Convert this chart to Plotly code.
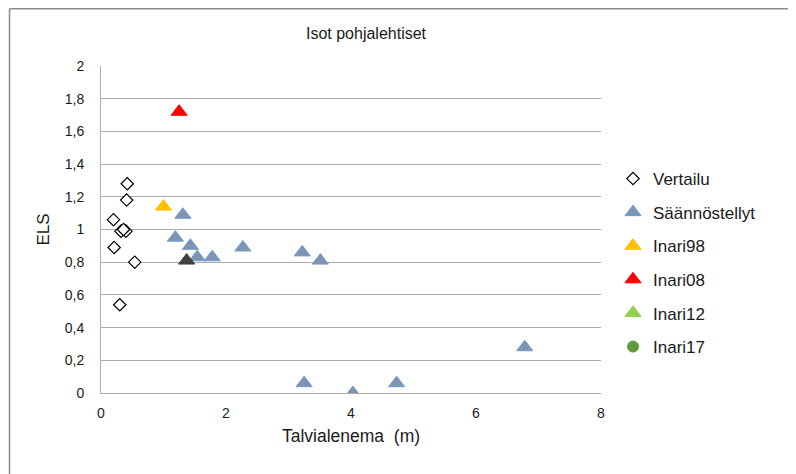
import plotly.graph_objects as go

# Data
vertailu_x = [0.42, 0.41, 0.20, 0.32, 0.40, 0.36, 0.21, 0.54, 0.30]
vertailu_y = [1.28, 1.18, 1.06, 0.99, 0.99, 1.00, 0.89, 0.80, 0.54]

saann_x = [1.31, 1.19, 1.43, 1.54, 1.78, 2.27, 3.22, 3.51, 6.78, 3.25, 4.03, 4.73]
saann_y = [1.09, 0.95, 0.90, 0.83, 0.83, 0.89, 0.86, 0.81, 0.28, 0.06, 0.00, 0.06]

inari98_x = [1.00]
inari98_y = [1.14]

inari08_x = [1.25]
inari08_y = [1.72]

inari12_x = [None]
inari12_y = [None]

inari17_x = [None]
inari17_y = [None]

other_x = [1.37]
other_y = [0.81]

y_ticks = [0, 0.2, 0.4, 0.6, 0.8, 1.0, 1.2, 1.4, 1.6, 1.8, 2.0]
y_tick_labels = ["0", "0,2", "0,4", "0,6", "0,8", "1", "1,2", "1,4", "1,6", "1,8", "2"]
x_ticks = [0, 2, 4, 6, 8]
x_tick_labels = ["0", "2", "4", "6", "8"]

FONT = "Liberation Sans, Arial, sans-serif"
TXT = "#1a1a1a"
GRID = "#acacac"

fig = go.Figure()

fig.add_trace(go.Scatter(
    x=vertailu_x, y=vertailu_y, mode="markers", name="Vertailu", legendgroup="a",
    marker=dict(symbol="diamond", size=9.5, color="white", line=dict(color="black", width=1.2)),
))
fig.add_trace(go.Scatter(
    x=saann_x, y=saann_y, mode="markers", name="Säännöstellyt", legendgroup="b",
    marker=dict(symbol="triangle-up", size=14, color="#7f94b1", line=dict(color="#6b9bd3", width=1)),
))
fig.add_trace(go.Scatter(
    x=inari98_x, y=inari98_y, mode="markers", name="Inari98", legendgroup="c",
    marker=dict(symbol="triangle-up", size=14, color="#ffc000", line=dict(color="#ffc000", width=1)),
))
fig.add_trace(go.Scatter(
    x=inari08_x, y=inari08_y, mode="markers", name="Inari08", legendgroup="d",
    marker=dict(symbol="triangle-up", size=14, color="#ff0000", line=dict(color="#ff0000", width=1)),
))
fig.add_trace(go.Scatter(
    x=inari12_x, y=inari12_y, mode="markers", name="Inari12", legendgroup="e",
    marker=dict(symbol="triangle-up", size=14, color="#92d050", line=dict(color="#92d050", width=1)),
))
fig.add_trace(go.Scatter(
    x=inari17_x, y=inari17_y, mode="markers", name="Inari17", legendgroup="f",
    marker=dict(symbol="circle", size=11, color="#5f9a3c", line=dict(color="#5f9a3c", width=1)),
))
fig.add_trace(go.Scatter(
    x=other_x, y=other_y, mode="markers", name="", showlegend=False,
    marker=dict(symbol="triangle-up", size=14, color="#404040", line=dict(color="#404040", width=1)),
))

# The page body has an 8px margin, so the figure sits at (8, 8) in the window.
OFF = 8
W, H = 796 - OFF, 474 - OFF
# plot area in page pixels: x 101..601, y 66..393
L, R, T, B = 101 - OFF, 601 - OFF, 66 - OFF, 393 - OFF
pw, ph = R - L, B - T
bx = (1.5 - L) / pw
by = (B - 0.75) / ph

fig.update_layout(
    width=W, height=H,
    margin=dict(l=L, r=W - R, t=T, b=H - B, pad=0),
    paper_bgcolor="white", plot_bgcolor="white",
    font=dict(family=FONT, color=TXT, size=14),
    title=dict(text="Isot pohjalehtiset", x=(366 - OFF) / W, xref="container", xanchor="center",
               y=1 - (33 - OFF) / H, yref="container", yanchor="middle",
               font=dict(family=FONT, size=16, color=TXT)),
    xaxis=dict(range=[0, 8], tickvals=x_ticks, ticktext=x_tick_labels, showgrid=False,
               zeroline=False, showline=True, linecolor=GRID, linewidth=1,
               ticks="", ticklabelstandoff=7, tickfont=dict(size=14, color=TXT),
               title=dict(text="Talvialenema  (m)", standoff=9, font=dict(size=17.5, color=TXT)),
               fixedrange=True),
    yaxis=dict(range=[0, 2], tickvals=y_ticks, ticktext=y_tick_labels, showgrid=True,
               gridcolor=GRID, gridwidth=1, zeroline=False, showline=True, linecolor=GRID,
               linewidth=1, ticks="", ticklabelstandoff=13, tickfont=dict(size=14, color=TXT),
               title=dict(text="ELS", standoff=10, font=dict(size=17, color=TXT)),
               fixedrange=True),
    legend=dict(x=(613 - OFF - L) / pw, xanchor="left", y=(B - (161 - OFF)) / ph, yanchor="top",
                font=dict(family=FONT, size=17, color=TXT), tracegroupgap=8.5,
                bgcolor="rgba(0,0,0,0)", itemclick=False, itemdoubleclick=False),
    showlegend=True,
    shapes=[
        dict(type="line", xref="paper", yref="paper", x0=bx, x1=1.5, y0=by, y1=by,
             line=dict(color="#8c8c8c", width=1.5)),
        dict(type="line", xref="paper", yref="paper", x0=bx, x1=bx, y0=by, y1=-0.4,
             line=dict(color="#8c8c8c", width=1.5)),
    ],
)

fig.write_html("out.html")
